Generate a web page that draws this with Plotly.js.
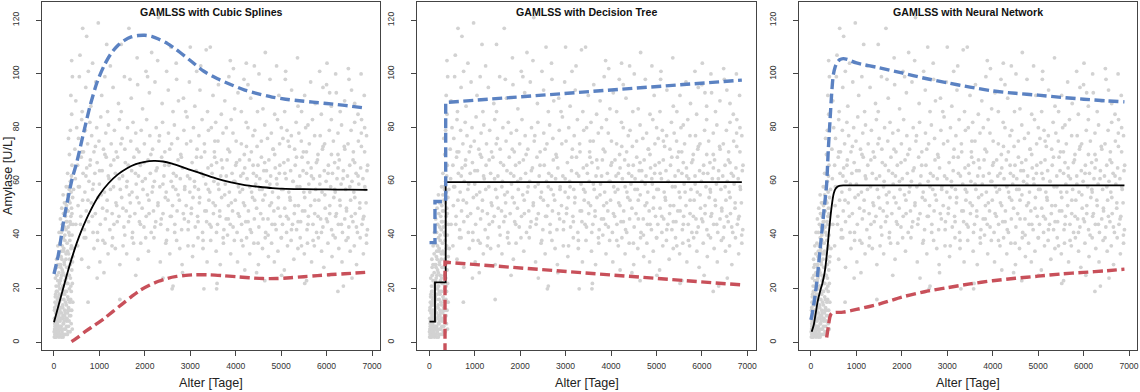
<!DOCTYPE html>
<html>
<head>
<meta charset="utf-8">
<script src="https://cdn.plot.ly/plotly-3.0.1.min.js"></script>
<style>html,body{margin:0;padding:0;background:#fff}#chart{width:1140px;height:392px}</style>
</head>
<body>
<div id="chart"></div>
<script>
const infantPoints = [
[8,2],[14,5],[20,3],[26,8],[32,4],[38,11],[44,6],[50,2],[56,9],[62,14],[68,4],[74,7],[80,12],[86,3],[92,17],[98,6],[104,10],[110,2],[116,15],[122,5],[128,20],[134,8],[140,3],[146,13],[152,24],[158,6],[164,11],[170,18],[176,4],[182,27],[188,9],[194,14],[200,2],[206,21],[212,7],[218,16],[224,30],[230,5],[236,12],[242,25],[248,3],[254,19],[260,9],[266,33],[272,14],[278,6],[284,22],[290,37],[296,11],[302,17],[308,4],[314,28],[320,13],[326,41],[332,8],[338,20],[344,31],[350,15],[356,45],[362,24],[368,10],[374,35],[380,19],[386,50],[392,27],[398,40],[404,22],[410,54],[416,32],
[12,12],[24,15],[36,18],[48,21],[60,10],[72,19],[84,23],[96,14],[108,26],[120,22],[132,17],[144,29],[156,32],[168,25],[180,36],[192,21],[204,39],[216,34],[228,43],[240,38],[252,47],[264,42],[276,51],[288,45],[300,55],[312,49],[324,53],[336,57],[348,38],[360,60],[372,47],[384,62],[396,66],[340,70],[320,76],[360,79],[390,85],[300,63],[270,58],[230,52],
[18,7],[30,2],[42,9],[54,5],[66,3],[78,16],[90,8],[102,4],[114,11],[126,3],[138,6],[150,9],[162,2],[174,13],[186,5],[198,10],[210,3],[222,8],[234,18],[246,11],[258,5],[270,24],[282,8],[294,3],[306,12],[318,6],[330,25],[342,10],[354,4],[366,16],[378,7],[390,12],[402,5],[414,15],[389,105],[372,92],[405,99],
[5,4],[11,9],[17,13],[23,6],[29,17],[35,8],[41,3],[47,14],[53,19],[59,7],[65,25],[71,11],[77,4],[83,29],[89,15],[95,9],[101,21],[107,33],[113,6],[119,18],[125,12],[131,37],[137,23],[143,5],[149,28],[155,16],[161,41],[167,9],[173,31],[179,20],[185,44],[191,13],[197,26],[203,7],[209,48],[215,35],[221,19],[227,29],[233,10],[239,40],[245,23],[251,52],[257,15],[263,31],[269,45],[275,19],[281,28],[287,9],[293,49],[299,34],[305,22],[311,43],[317,16],[323,33],[329,58],[335,25],[341,40],[347,12],[353,52],[359,29],[365,44],[371,21],[377,56],[383,36],[395,48],[407,30],[419,44],[430,57],[440,35],[31,24],[57,31],[85,36],[113,41],[141,46],[171,50],[201,55],[123,29],[163,34],[63,28]
];
const olderPoints = [
[632,117],[975,119],[719,114],[572,107],[756,101],[1160,111],[2025,101],[2282,105],[3000,110],[3141,101],[4652,108],[3881,105],[4233,104],[5848,101],[2300,121],[1480,111],[3230,103],[2690,104],[2570,110],[3350,109],[4410,103],[5100,101],[5360,106],[6010,104],[6200,100],[6480,102],[6760,100],[1830,106],[1240,103],[850,104],[3950,102],[4900,103],[2480,101],[2150,108],[1650,117],[3440,110],
[558,99],[1673,98],[1842,96],[2223,97],[2516,94],[2700,98],[3213,94],[4512,100],[4755,98],[5092,98],[4182,98],[6494,98],[5921,95],[6068,93],[6214,93],[5518,92],[3500,92],[3977,87],[4600,87],[5371,88],[6398,90],[6692,85],[3683,85],[4124,86],[4858,85],[5078,86],[5885,85],[6105,88],[6619,89],
[480,90],[620,86],[700,95],[810,88],[920,97],[1050,92],[1180,86],[1300,95],[1420,89],[1550,99],[1700,91],[1950,87],[2100,93],[2380,89],[2620,86],[2850,91],[2980,97],[3100,88],[3380,86],[3620,96],[3760,90],[4050,93],[4330,91],[4480,86],[5230,94],[5650,97],[5750,89],[6300,86],[6550,94],[6830,92],[2060,99],[2740,90],[3850,99],[4950,92],[5450,86],[6000,96],[1120,99],[1480,86],[2900,86],[4270,96],
[3793,80],[4270,80],[5004,80],[5591,81],[3463,80],[3940,78],[4380,77],[4784,78],[5224,77],[5738,77],[6251,78],[6765,78],[3610,75],[4124,74],[4564,75],[4967,74],[5444,75],[5958,74],[6472,74],[3830,72],[4344,71],[4858,70],[5298,72],[5811,70],[6251,70],[6838,71],[6619,82],[6838,80],[6105,83],
[460,72],[500,80],[540,76],[610,83],[650,71],[690,79],[740,74],[790,82],[830,77],[880,71],[940,80],[990,75],[1030,84],[1090,72],[1140,78],[1200,81],[1260,74],[1330,79],[1370,71],[1440,83],[1500,76],[1560,72],[1620,80],[1690,75],[1740,82],[1800,78],[1870,71],[1920,79],[1990,74],[2040,83],[2110,77],[2170,72],[2250,80],[2310,75],[2390,82],[2440,71],[2520,78],[2590,74],[2650,81],[2720,76],[2790,70],[2860,79],[2930,84],[3010,75],[3070,80],[3150,72],[3190,77],[3260,83],[3310,74],[3400,79],[3530,71],[3560,82],[3720,78],[3900,83],[4010,75],[4190,70],[4230,82],[4420,79],[4470,73],[4640,81],[4700,76],[4820,72],[4920,83],[5040,76],[5130,79],[5180,73],[5330,82],[5390,78],[5490,71],[5540,80],[5620,74],[5690,83],[5860,77],[5910,72],[6060,79],[6150,75],[6330,81],[6390,73],[6540,79],[6590,71],[6700,75],[6770,83],[6880,77],
[3537,69],[4087,68],[4638,67],[5151,68],[5591,67],[6178,67],[6619,67],
[470,61],[520,66],[560,58],[600,69],[640,63],[680,56],[720,65],[770,60],[800,68],[850,57],[900,63],[950,67],[1000,59],[1060,64],[1110,56],[1150,69],[1210,61],[1250,66],[1310,58],[1350,63],[1400,69],[1460,57],[1510,62],[1570,67],[1610,60],[1660,55],[1710,64],[1760,69],[1810,59],[1860,62],[1900,66],[1960,57],[2010,61],[2070,68],[2120,63],[2160,56],[2210,60],[2270,65],[2330,58],[2370,69],[2420,62],[2470,56],[2530,66],[2580,60],[2630,63],[2680,57],[2730,68],[2780,61],[2830,65],[2880,58],[2940,62],[2990,56],[3040,67],[3090,60],[3130,64],[3180,57],[3240,69],[3290,62],[3340,59],[3390,65],[3430,56],[3480,63],[3520,60],[3580,67],[3630,57],[3670,62],[3710,65],[3770,59],[3810,68],[3860,56],[3920,63],[3960,60],[4000,66],[4060,58],[4110,62],[4150,57],[4200,65],[4250,61],[4300,68],[4350,56],[4390,63],[4440,59],[4490,66],[4530,61],[4580,57],[4620,64],[4680,60],[4730,68],[4770,62],[4810,56],[4870,65],[4910,59],[4960,63],[5010,57],[5060,67],[5110,61],[5170,56],[5210,64],[5260,60],[5310,66],[5350,58],[5410,62],[5460,69],[5500,56],[5560,63],[5610,59],[5660,65],[5710,61],[5760,57],[5800,68],[5850,62],[5900,56],[5950,64],[5990,60],[6040,66],[6090,58],[6130,63],[6190,56],[6230,61],[6280,68],[6320,59],[6370,64],[6420,57],[6460,62],[6510,66],[6560,60],[6600,56],[6650,63],[6710,59],[6750,65],[6800,61],[6850,57],[6890,64],
[480,44],[530,51],[590,47],[630,53],[670,42],[710,49],[760,45],[820,52],[860,41],[910,48],[970,54],[1020,44],[1070,50],[1130,46],[1170,53],[1230,42],[1280,48],[1320,44],[1380,51],[1430,47],[1490,54],[1540,43],[1590,49],[1640,45],[1680,52],[1730,41],[1780,48],[1830,54],[1880,45],[1940,50],[1980,43],[2030,47],[2090,53],[2140,41],[2190,49],[2240,45],[2290,52],[2350,44],[2400,48],[2450,54],[2500,42],[2560,47],[2610,51],[2660,44],[2710,49],[2760,53],[2810,42],[2870,46],[2910,51],[2960,45],[3020,48],[3060,54],[3110,43],[3160,47],[3200,52],[3270,41],[3320,49],[3360,45],[3410,53],[3460,43],[3510,48],[3550,51],[3600,44],[3650,47],[3690,54],[3740,42],[3790,46],[3840,51],[3880,44],[3930,49],[3990,53],[4030,41],[4080,47],[4130,44],[4170,52],[4220,45],[4280,49],[4320,42],[4370,54],[4410,46],[4460,50],[4510,43],[4550,48],[4600,53],[4660,41],[4710,46],[4750,51],[4800,44],[4840,49],[4890,42],[4940,54],[4980,47],[5030,44],[5080,50],[5120,41],[5160,46],[5200,53],[5250,44],[5290,48],[5340,42],[5380,51],[5430,45],[5470,49],[5520,54],[5570,42],[5600,47],[5650,51],[5700,44],[5740,48],[5780,41],[5830,53],[5870,46],[5920,43],[5970,50],[6020,45],[6070,48],[6110,42],[6160,54],[6200,47],[6260,44],[6300,51],[6350,41],[6400,46],[6440,49],[6490,43],[6530,53],[6580,45],[6630,48],[6680,41],[6730,50],[6780,44],[6820,47],[6870,52],[6900,42],
[520,36],[610,31],[700,39],[760,28],[880,35],[960,38],[1010,30],[1120,37],[1190,33],[1290,39],[1350,35],[1450,29],[1520,36],[1600,33],[1720,39],[1850,31],[1910,37],[2080,34],[2200,39],[2340,30],[2460,37],[2550,33],[2700,38],[2820,29],[2950,36],[3050,32],[3170,39],[3280,35],[3370,30],[3450,38],[3570,34],[3660,29],[3730,37],[3820,40],[3890,33],[3970,38],[4040,30],[4160,36],[4240,39],[4310,33],[4400,37],[4500,29],[4590,35],[4650,39],[4720,32],[4790,37],[4850,30],[4930,34],[5000,39],[5070,27],[5140,36],[5220,38],[5280,31],[5370,35],[5420,39],[5510,33],[5580,37],[5670,30],[5730,36],[5820,39],[5890,34],[5940,28],[6030,37],[6120,32],[6190,39],[6270,35],[6340,30],[6430,38],[6520,34],[6610,36],[6660,29],[6740,39],[6810,33],[6880,37],
[750,15],[1450,16],[6250,19],[2600,20],[2620,21],[3300,20],[3580,20],[1100,26],[1800,25],[2400,24],[3590,22],[4640,23],[5010,25],[5520,22],[5560,23],[6050,25],[6560,24],[6370,21],[2830,26],[4200,27],[950,24],[4460,26],
[537,58],[583,44],[611,71],[664,39],[703,62],[748,53],[791,66],[843,47],[867,59],[912,73],[958,41],[1003,64],[1041,55],[1077,38],[1122,70],[1168,49],[1195,62],[1243,57],[1277,36],[1318,68],[1364,52],[1392,45],[1437,61],[1473,74],[1518,50],[1559,40],[1597,58],[1634,66],[1671,47],[1718,56],[1752,37],[1793,63],[1827,72],[1871,52],[1903,44],[1947,60],[1982,67],[2018,39],[2057,55],[2093,48],[2132,70],[2176,58],[2219,43],[2247,64],[2288,51],[2323,77],[2361,46],[2398,59],[2437,66],[2476,38],[2511,53],[2548,72],[2583,47],[2619,58],[2657,41],[2691,62],[2733,55],[2769,35],[2804,69],[2846,48],[2877,57],[2918,74],[2953,42],[2991,61],[3027,50],[3066,36],[3098,58],[3137,69],[3172,45],[3208,54],[3246,63],[3282,38],[3318,71],[3353,49],[3397,57],[3428,44],[3466,66],[3503,52],[3541,75],[3577,41],[3612,59],[3648,49],[3687,68],[3723,39],[3758,55],[3793,62],[3836,46],[3867,71],[3904,52],[3942,43],[3981,60],[4018,67],[4053,48],[4092,56],[4127,38],[4163,63],[4198,51],[4237,73],[4272,45],[4311,58],[4346,41],[4383,66],[4418,53],[4457,62],[4493,37],[4528,57],[4566,69],[4602,46],[4643,55],[4677,64],[4713,40],[4752,59],[4788,52],[4826,72],[4861,44],[4898,61],[4933,50],[4971,66],[5007,39],[5043,57],[5082,63],[5118,47],[5153,75],[5192,54],[5227,42],[5263,60],[5302,51],[5338,69],[5373,45],[5412,58],[5448,36],[5483,64],[5521,49],[5557,71],[5592,44],[5631,56],[5667,62],[5703,38],[5741,53],[5776,67],[5813,47],[5852,59],[5887,41],[5923,73],[5962,55],[5997,46],[6033,63],[6071,51],[6107,70],[6143,40],[6182,57],[6217,48],[6253,65],[6292,53],[6327,44],[6363,61],[6402,72],[6437,50],[6473,39],[6512,58],[6547,47],[6583,68],[6622,54],[6657,43],[6693,62],[6732,52],[6767,73],[6803,46],[6842,58],[6877,40],[6905,66]
];

// ---- fitted centiles ----
// Cubic splines
const splineMedAge = [0,100,200,300,400,500,600,800,1000,1200,1400,1600,1800,2000,2200,2400,2600,2800,3000,3300,3600,3900,4200,4500,4800,5100,5500,6000,6500,6900];
const splineMed    = [7.5,13.8,20,26.2,31.8,37,41.5,49,55,59.3,62.5,64.8,66.4,67.3,67.6,67.4,66.6,65.5,64.3,62.6,60.9,59.6,58.6,58,57.5,57.2,57.1,57,56.9,56.8];
const splineUpAge  = [0,100,200,300,400,500,650,800,950,1100,1250,1400,1550,1700,1850,2000,2150,2300,2500,2700,3000,3300,3600,3900,4200,4500,4800,5100,5400,5700,6000,6400,6850];
const splineUp     = [25.5,33,44,53,61,67,78,88.5,97,103,107.5,110.5,112.5,113.8,114.3,114.4,114,113,111.3,109,105,101,98.2,96,94,92.6,91.4,90.6,90,89.5,89,88.3,87.3];
const splineLoAge  = [385,500,700,900,1100,1300,1500,1700,1900,2100,2300,2500,2700,2900,3100,3400,3700,4000,4300,4600,4900,5200,5500,5800,6100,6400,6850];
const splineLo     = [0.3,1.6,4.2,6.5,8.9,11.6,14.3,17,19.5,21.3,22.8,23.9,24.6,25,25.2,25.2,24.9,24.5,24.1,23.8,23.8,24.1,24.5,24.9,25.3,25.6,26.1];
// Decision tree
const treeMedAge = [5,125,125,361,361,6880];
const treeMed    = [7.8,7.8,22.4,22.4,59.7,59.7];
const treeUpAge  = [5,125,125,361,361,6880];
const treeUp     = [37.2,37.2,52.5,52.5,89.4,97.7];
const treeLoAge  = [346,346,6900];
const treeLo     = [-4,29.9,21.4];
// Neural network
const nnMedAge = [15,60,100,150,200,250,300,350,400,450,500,550,620,720,900,2000,4000,6900];
const nnMed    = [4,6.5,10.5,15.5,19,22,26,33,42,50,55.5,57.5,58.3,58.5,58.5,58.5,58.5,58.5];
const nnUpAge  = [0,60,125,200,270,310,345,380,420,455,490,530,570,630,710,800,1000,1500,2000,2500,3000,3500,4000,4500,5000,5500,6000,6500,6900];
const nnUp     = [8.4,14,22,34.5,46.5,53,59.2,71.5,83,92.7,99.5,102.5,104.2,105.3,105.7,105.4,104.1,102.3,100.4,98.4,96.7,95.1,93.7,92.8,92.1,91.3,90.6,90,89.6];
const nnLoAge  = [345,381,418,450,480,550,711,1000,1500,2000,2500,3000,3500,4000,4500,5000,5500,6000,6500,6900];
const nnLo     = [1.9,5.9,9.6,10.8,11.1,11.2,11.3,12.3,14.3,16.9,18.9,20.4,21.8,23,23.9,24.7,25.5,26.1,26.7,27.3];

const panelTitles = ['GAMLSS with Cubic Splines','GAMLSS with Decision Tree','GAMLSS with Neural Network'];
const xTicks = [0,1000,2000,3000,4000,5000,6000,7000];
const yTicks = [0,20,40,60,80,100,120];

// ---- build ----
const allPts = infantPoints.concat(olderPoints);
const ptX = allPts.map(p => p[0]);
const ptY = allPts.map(p => p[1]);

const BLUE = '#5b82c2', RED = '#c8505a', GREY = '#d2d2d2';
const panels = [
  {med:[splineMedAge,splineMed], up:[splineUpAge,splineUp], lo:[splineLoAge,splineLo], shape:'spline'},
  {med:[treeMedAge,treeMed], up:[treeUpAge,treeUp], lo:[treeLoAge,treeLo], shape:'linear'},
  {med:[nnMedAge,nnMed], up:[nnUpAge,nnUp], lo:[nnLoAge,nnLo], shape:'spline'}
];
const traces = [];
panels.forEach((p, i) => {
  const xa = i === 0 ? 'x' : 'x' + (i + 1);
  const ya = i === 0 ? 'y' : 'y' + (i + 1);
  traces.push({type:'scatter', mode:'markers', x:ptX, y:ptY, xaxis:xa, yaxis:ya,
    marker:{color:GREY, size:3.8}, hoverinfo:'skip'});
  traces.push({type:'scatter', mode:'lines', x:p.med[0], y:p.med[1], xaxis:xa, yaxis:ya,
    line:{color:'#000', width:1.8, shape:p.shape, smoothing:0.8}});
  traces.push({type:'scatter', mode:'lines', x:p.up[0], y:p.up[1], xaxis:xa, yaxis:ya,
    line:{color:BLUE, width:3.4, dash:'10px,4.5px', shape:p.shape, smoothing:0.8}});
  traces.push({type:'scatter', mode:'lines', x:p.lo[0], y:p.lo[1], xaxis:xa, yaxis:ya,
    line:{color:RED, width:3.4, dash:'10px,4.5px', shape:p.shape, smoothing:0.8}});
});

const W = 1140, TOP = 2, BOT = 350, PH = BOT - TOP;
const doms = [[42, 380.4], [417.3, 755.7], [799, 1137.4]];
const FONT = 'Liberation Sans, Arial, Helvetica, sans-serif';
const layout = {
  width: W, height: 392, showlegend: false,
  margin: {l:0, r:0, t:TOP, b:392 - BOT, pad:0},
  paper_bgcolor: '#fff', plot_bgcolor: '#fff',
  font: {family: FONT, color: '#222'},
  annotations: []
};
doms.forEach((d, i) => {
  const sfx = i === 0 ? '' : (i + 1);
  layout['xaxis' + sfx] = {
    domain: [d[0] / W, d[1] / W], range: [-264, 7185], anchor: 'y' + sfx,
    showgrid: false, zeroline: false, showline: true, mirror: true, linecolor: '#444', linewidth: 1,
    ticks: 'outside', ticklen: 5, tickwidth: 1, tickcolor: '#444',
    tickvals: xTicks, ticktext: xTicks.map(String), tickfont: {size: 8.6, color: '#333'},
    ticklabelstandoff: 3
  };
  layout['yaxis' + sfx] = {
    domain: [0, 1], range: [-2.8, 126.8], anchor: 'x' + sfx,
    showgrid: false, zeroline: false, showline: true, mirror: true, linecolor: '#444', linewidth: 1,
    ticks: 'outside', ticklen: 5, tickwidth: 1, tickcolor: '#444',
    tickvals: yTicks, ticktext: yTicks.map(String), tickfont: {size: 8.6, color: '#333'},
    tickangle: -90, ticklabelstandoff: 14
  };
  const cx = (d[0] + d[1]) / 2 / W;
  layout.annotations.push({xref:'paper', yref:'paper', x:cx, y:(BOT - 11.7) / PH, text:'<b>' + panelTitles[i] + '</b>',
    showarrow:false, xanchor:'center', yanchor:'middle', font:{size:10.6, color:'#111', family:FONT}});
  layout.annotations.push({xref:'paper', yref:'paper', x:cx, y:(BOT - 383) / PH, text:'Alter [Tage]',
    showarrow:false, xanchor:'center', yanchor:'middle', font:{size:12.6, color:'#222', family:FONT}});
});
layout.annotations.push({xref:'paper', yref:'paper', x:8 / W, y:(BOT - 176) / PH, text:'Amylase [U/L]', textangle:-90,
  showarrow:false, xanchor:'center', yanchor:'middle', font:{size:12.6, color:'#222', family:FONT}});

Plotly.newPlot('chart', traces, layout, {staticPlot: true, displayModeBar: false});
</script>
</body>
</html>
